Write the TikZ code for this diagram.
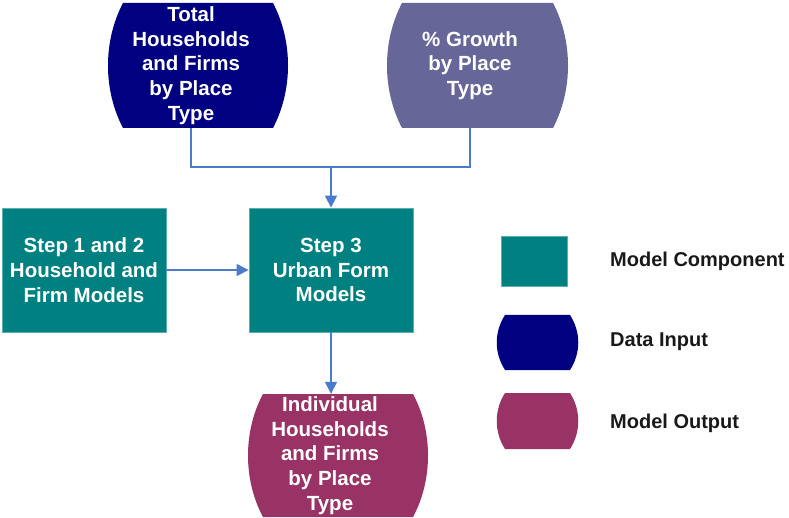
\documentclass[tikz,border=0pt]{standalone}
\usepackage{fontspec}
\setmainfont{Liberation Sans}
\usetikzlibrary{arrows.meta}
\definecolor{teal1}{HTML}{008080}
\definecolor{tealedge}{HTML}{5AAFAF}
\definecolor{navy1}{HTML}{000080}
\definecolor{slate1}{HTML}{666699}
\definecolor{plum1}{HTML}{993366}
\definecolor{conn1}{HTML}{4A7CC9}
\newcommand\datashape[7]{%
  \fill[#1] (#2,#4) -- (#3,#4) .. controls +(#6,#7) and +(#6,-#7) .. (#3,#5)
    -- (#2,#5) .. controls +(-#6,-#7) and +(-#6,#7) .. cycle;}
\begin{document}
\begin{tikzpicture}[x=1pt,y=-1pt,
  lbl/.style={font=\bfseries\fontsize{20.5}{24.7}\selectfont, text=white, align=center, inner sep=0pt},
  legtext/.style={font=\bfseries\fontsize{20}{24.7}\selectfont, text=black!90, anchor=west, inner sep=0pt},
  compbox/.style={fill=teal1, draw=tealedge, line width=0.8pt, inner sep=0pt},
  conn/.style={draw=conn1, line width=1.4pt},
  arr/.style={conn, -{Triangle[length=12pt,width=12pt]}}]
\useasboundingbox (0,0) rectangle (789,518);
% data shapes
\datashape{navy1}{123}{273}{3}{128}{20}{38}
\datashape{slate1}{402}{553}{3}{128}{20}{38}
\datashape{plum1}{263}{413}{394}{517}{20}{37}
% nodes
\node[lbl, minimum height=125pt] (tot) at (191,65.5) {Total\\Households\\and Firms\\by Place\\Type};
\node[lbl, minimum height=125pt] (grow) at (470,65.5) {\% Growth\\by Place\\Type};
\node[lbl, minimum height=123pt] (out) at (330,455.5) {Individual\\Households\\and Firms\\by Place\\Type};
\node[compbox, minimum width=164pt, minimum height=124pt] (s1) at (84,270) {};
\node[lbl] at (s1) {Step 1 and 2\\Household and\\Firm Models};
\node[compbox, minimum width=164pt, minimum height=124pt] (s3) at (331,270) {};
\node[lbl] at (s3) {Step 3\\Urban Form\\Models};
% connectors
\coordinate (j) at (331,167);
\draw[conn] (tot.south) |- (j);
\draw[conn] (grow.south) |- (j);
\draw[arr] (j) -- (s3.north);
\draw[arr] (s1.east) -- (s3.west);
\draw[arr] (s3.south) -- (s3.south |- out.north);
% legend
\node[compbox, minimum width=66pt, minimum height=50pt] (lcomp) at (534,261) {};
\datashape{navy1}{505}{570}{315}{370}{11}{17}
\datashape{plum1}{505}{570}{393}{449}{11}{17}
\node[inner sep=0pt, minimum width=80pt, minimum height=55pt] (ldata) at (537,342.5) {};
\node[inner sep=0pt, minimum width=80pt, minimum height=56pt] (lout) at (537,421) {};
\node[legtext] (tcomp) at (610,261) {Model Component};
\node[legtext] (tdata) at (610,342) {Data Input};
\node[legtext] (tout) at (610,423) {Model Output};
\end{tikzpicture}
\end{document}
